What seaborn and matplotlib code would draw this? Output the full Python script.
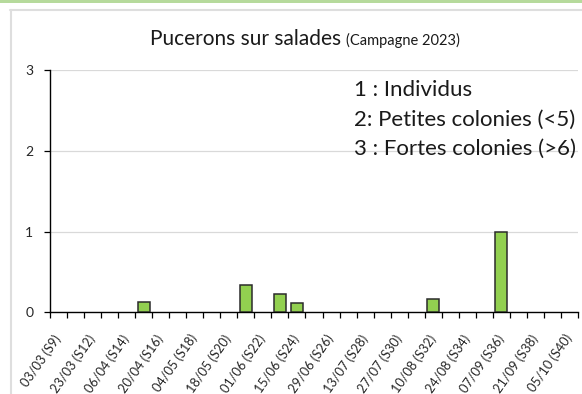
import numpy as np
import pandas as pd
import matplotlib
matplotlib.use("Agg")
import matplotlib.pyplot as plt
import seaborn as sns
from matplotlib.patches import Rectangle
from matplotlib.lines import Line2D

# Weekly observation dates (week S10 was not sampled)
weeks = ["S9", "S11", "S12", "S13", "S14", "S15", "S16", "S17", "S18", "S19",
         "S20", "S21", "S22", "S23", "S24", "S25", "S26", "S27", "S28", "S29",
         "S30", "S31", "S32", "S33", "S34", "S35", "S36", "S37", "S38", "S39",
         "S40"]
dates = ["03/03", "16/03", "23/03", "30/03", "06/04", "13/04", "20/04", "27/04",
         "04/05", "11/05", "18/05", "25/05", "01/06", "08/06", "15/06", "22/06",
         "29/06", "06/07", "13/07", "20/07", "27/07", "03/08", "10/08", "17/08",
         "24/08", "31/08", "07/09", "14/09", "21/09", "28/09", "05/10"]
# Mean infestation score per week
scores = [0, 0, 0, 0, 0, 0.125, 0, 0, 0, 0,
          0, 0.333, 0, 0.222, 0.111, 0, 0, 0, 0, 0,
          0, 0, 0.167, 0, 0, 0, 1.0, 0, 0, 0,
          0]
score_scale = ["1 : Individus", "2: Petites colonies (<5)", "3 : Fortes colonies (>6)"]
title_main = "Pucerons sur salades "
title_sub = "(Campagne 2023)"

sns.set_theme(style="white")
plt.rcParams["font.family"] = ["Lato", "DejaVu Sans"]
plt.rcParams["text.color"] = "#1a1a1a"

labels = [f"{d} ({w})" for d, w in zip(dates, weeks)]
df = pd.DataFrame({"semaine": labels, "note": scores})

W, H = 582, 394
fig = plt.figure(figsize=(W / 100, H / 100), dpi=100)
fig.patch.set_facecolor("white")

# page decoration: green rule on top, light frame around the chart
fig.add_artist(Rectangle((0, 1 - 3 / H), 1, 3 / H, transform=fig.transFigure,
                         facecolor="#b6da9c", edgecolor="none"))
fig.add_artist(Line2D([11 / W, 11 / W], [0, 1 - 9.5 / H], transform=fig.transFigure,
                      color="#dedede", lw=1.5))
fig.add_artist(Line2D([10.5 / W, 1], [1 - 9.5 / H, 1 - 9.5 / H], transform=fig.transFigure,
                      color="#dedede", lw=1.5))

x0, x1, y_top, y_bot = 50, 578, 70, 312.3
ax = fig.add_axes([x0 / W, 1 - y_bot / H, (x1 - x0) / W, (y_bot - y_top) / H])

sns.barplot(data=df, x="semaine", y="note", order=labels, color="#92d050",
            saturation=1, edgecolor="#2b2b2b", linewidth=1.1, width=0.69,
            errorbar=None, ax=ax, zorder=3)
for p in ax.patches:
    if p.get_height() == 0:
        p.set_visible(False)

ax.set_xlim(-0.5, len(labels) - 0.5)
ax.set_ylim(0, 3)
ax.set_yticks([0, 1, 2, 3])
ax.set_yticklabels(["0", "1", "2", "3"], fontsize=10)
ax.yaxis.grid(True, color="#d9d9d9", lw=0.9, zorder=0)
ax.set_axisbelow(True)
ax.set_xlabel("")
ax.set_ylabel("")

idx = np.arange(len(labels))
ax.set_xticks(idx[::2])
ax.set_xticklabels(labels[::2], rotation=55, ha="right", va="center",
                   rotation_mode="anchor", fontsize=9.2)
ax.set_xticks(np.arange(-0.5, len(labels)), minor=True)
ax.tick_params(axis="x", which="major", length=0, pad=17)
ax.tick_params(axis="x", which="minor", length=4, width=0.9, color="black",
               direction="out", bottom=True)
ax.tick_params(axis="y", which="major", length=4, width=0.9, color="black",
               direction="out", left=True, pad=8)

for s in ["top", "right"]:
    ax.spines[s].set_visible(False)
for s in ["left", "bottom"]:
    ax.spines[s].set_color("black")
    ax.spines[s].set_linewidth(1.0)

# score legend written inside the plot area
for i, line in enumerate(score_scale):
    ax.text(354 / W, 1 - (90 + 29.5 * i) / H, line, transform=fig.transFigure,
            fontsize=16, ha="left", va="center", color="#1a1a1a")

# title in two sizes, centred as a whole
fig.canvas.draw()
r = fig.canvas.get_renderer()
t1 = fig.text(0, 1 - 39 / H, title_main, fontsize=15, ha="left", va="center")
t2 = fig.text(0, 1 - 40.5 / H, title_sub, fontsize=10.5, ha="left", va="center")
w1 = t1.get_window_extent(r).width
w2 = t2.get_window_extent(r).width
start = 305 - (w1 + w2) / 2
t1.set_x(start / W)
t2.set_x((start + w1) / W)

fig.savefig("out.png", dpi=100, facecolor="white")
